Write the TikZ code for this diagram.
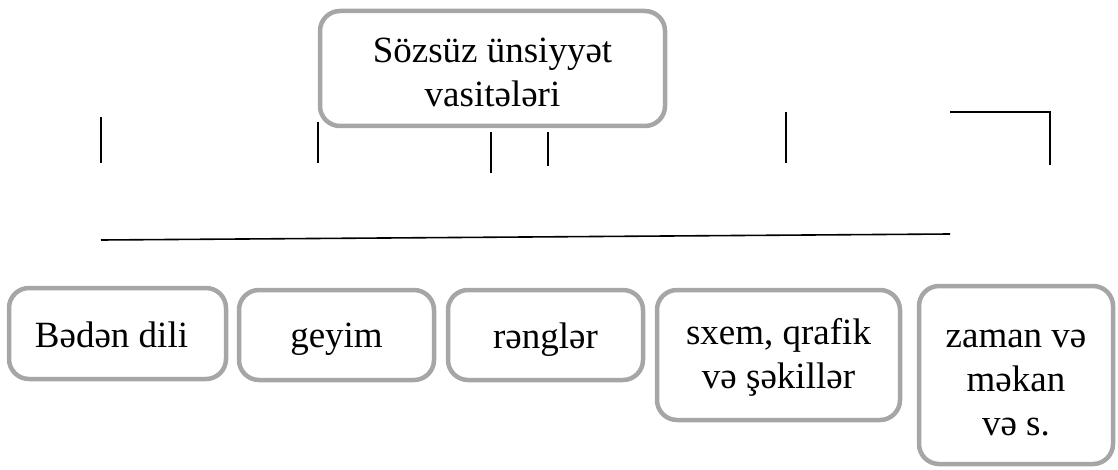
\documentclass[tikz,border=0pt]{standalone}
\usepackage{fontspec}
\setmainfont{Liberation Serif}
\begin{document}
\begin{tikzpicture}[x=1pt,y=-1pt,
  box/.style={draw=boxgray, line width=4.5pt, rounded corners=20pt, fill=white,
    inner sep=0pt, text depth=0pt, font=\fontsize{37}{44}\selectfont},
  seg/.style={draw=black, line width=1.6pt}]
\definecolor{boxgray}{HTML}{A6A6A6}
\newcommand{\mylines}[1]{\begin{tabular}[b]{@{}c@{}}#1\end{tabular}}
\useasboundingbox (0,0) rectangle (1118,470);
% top box
\node[box, minimum width=345pt, minimum height=115pt, text height=77pt] (top) at (492.5,68.5) {\mylines{Sözsüz ünsiyyət\\vasitələri}};
% bottom boxes
\node[box, minimum width=217pt, minimum height=91pt, text height=27pt] (b1) at (117.5,333.5) {Bədən dili\kern12pt};
\node[box, minimum width=195pt, minimum height=90pt, text height=24pt] (b2) at (336.5,335) {geyim};
\node[box, minimum width=195pt, minimum height=90pt, text height=26pt] (b3) at (545.5,335) {rənglər};
\node[box, minimum width=243pt, minimum height=130pt, text height=66pt] (b4) at (778.5,355) {\mylines{sxem, qrafik\\və şəkillər}};
\node[box, minimum width=194pt, minimum height=178pt, text height=120pt] (b5) at (1016,375) {\mylines{zaman və\\məkan\\və s.}};
% line segments
\coordinate (v1a) at (101,117); \coordinate (v1b) at (101,163);
\coordinate (v2a) at (318,122); \coordinate (v2b) at (318,163);
\coordinate (v3a) at (491,132); \coordinate (v3b) at (491,173);
\coordinate (v4a) at (548,132); \coordinate (v4b) at (548,166);
\coordinate (v5a) at (786,112); \coordinate (v5b) at (786,163);
\coordinate (k1) at (950,112); \coordinate (k2) at (1050,112); \coordinate (k3) at (1050,165);
\coordinate (h1) at (101,240); \coordinate (h2) at (950,234);
\draw[seg] (v1a) -- (v1b);
\draw[seg] (v2a) -- (v2b);
\draw[seg] (v3a) -- (v3b);
\draw[seg] (v4a) -- (v4b);
\draw[seg] (v5a) -- (v5b);
\draw[seg] (k1) -- (k2) -- (k3);
\draw[seg] (h1) -- (h2);
\end{tikzpicture}
\end{document}
